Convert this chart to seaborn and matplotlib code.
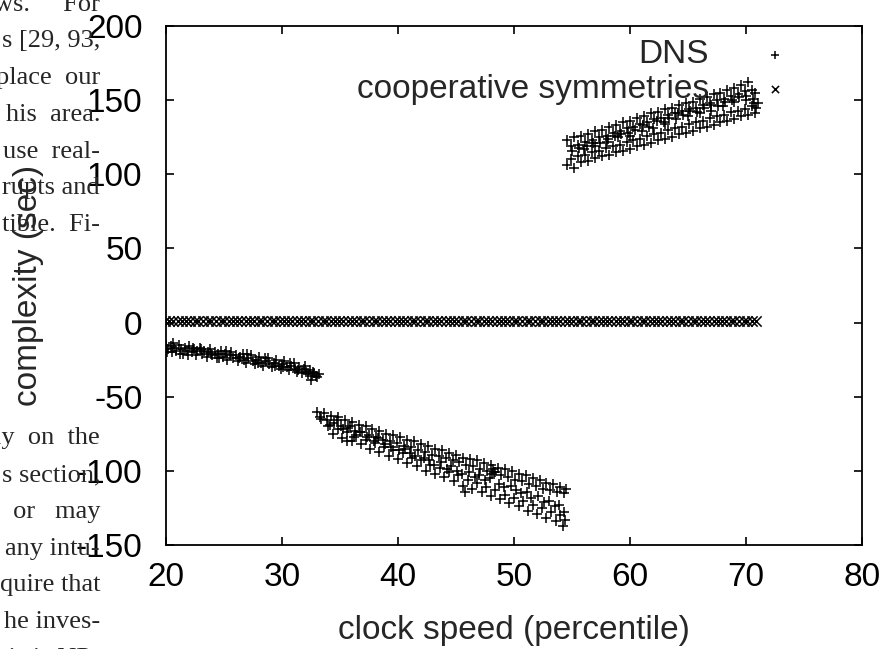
import numpy as np
import pandas as pd
import matplotlib
matplotlib.use("Agg")
import matplotlib.pyplot as plt
import seaborn as sns

# DNS: three clusters
seg1_x = [20.0, 20.2, 20.4, 20.5, 20.7, 20.9, 21.1, 21.3, 21.5, 21.6, 21.8, 22.0, 22.2, 22.4,
          22.6, 22.7, 22.9, 23.1, 23.3, 23.5, 23.6, 23.8, 24.0, 24.2, 24.4, 24.5, 24.7, 24.9,
          25.1, 25.3, 25.5, 25.6, 25.8, 26.0, 26.2, 26.4, 26.6, 26.7, 26.9, 27.1, 27.3, 27.5,
          27.7, 27.8, 28.0, 28.2, 28.4, 28.6, 28.8, 28.9, 29.1, 29.3, 29.5, 29.7, 29.9, 30.0,
          30.2, 30.4, 30.6, 30.8, 31.0, 31.1, 31.3, 31.5, 31.7, 31.9, 32.1, 32.2, 32.4, 32.5,
          32.6, 32.8, 33.0, 33.2,
          20.1, 20.6, 21.2, 21.9, 22.3, 23.0, 23.9, 24.6, 25.2, 26.3, 27.0, 27.9, 28.5, 29.4,
          30.1, 30.7, 31.4, 32.0, 32.7, 32.9]
seg1_y = [-15, -18, -16, -20, -17, -19, -15, -18, -21, -17, -19, -16, -20, -18,
          -22, -19, -17, -21, -19, -23, -20, -18, -22, -20, -24, -21, -19, -23,
          -21, -25, -22, -20, -24, -22, -26, -23, -21, -25, -27, -24, -22, -26,
          -28, -25, -23, -27, -29, -26, -24, -28, -30, -27, -25, -29, -31, -28,
          -26, -30, -32, -29, -27, -31, -33, -30, -34, -31, -33, -35, -32, -39,
          -36, -34, -37, -35,
          -20, -14, -21, -22, -17, -18, -21, -24, -19, -24, -21, -27, -24, -29,
          -30, -27, -32, -29, -33, -36]

seg2_x = [33.0, 33.3, 33.6, 33.9, 34.2, 34.5, 34.8, 35.1, 35.4, 35.7, 36.0, 36.3, 36.6, 36.9,
          37.2, 37.5, 37.8, 38.1, 38.4, 38.7, 39.0, 39.3, 39.6, 39.9, 40.2, 40.5, 40.8, 41.1,
          41.4, 41.7, 42.0, 42.3, 42.6, 42.9, 43.2, 43.5, 43.8, 44.1, 44.4, 44.7, 45.0, 45.3,
          45.6, 45.9, 46.2, 46.5, 46.8, 47.1, 47.4, 47.7, 48.0, 48.3, 48.6, 48.9, 49.2, 49.5,
          49.8, 50.1, 50.4, 50.7, 51.0, 51.3, 51.6, 51.9, 52.2, 52.5, 52.8, 53.1, 53.4, 53.7,
          54.0, 54.3, 54.5,
          34.0, 34.4, 34.8, 35.2, 35.6, 36.0, 36.4, 36.8, 37.2, 37.6, 38.0, 38.4, 38.8, 39.2,
          39.6, 40.0, 40.4, 40.8, 41.2, 41.6, 42.0, 42.4, 42.8, 43.2, 43.6, 44.0, 44.4, 44.8,
          45.2, 45.6, 46.0, 46.4, 46.8, 47.2, 47.6, 48.0, 48.4, 48.8, 49.2, 49.6, 50.0, 50.4,
          50.8, 51.2, 51.6, 52.0, 52.4, 52.8, 53.2, 53.6, 54.0, 54.2,
          33.4, 34.1, 34.7, 35.3, 35.9, 36.2, 36.7, 37.3, 37.9, 38.3, 38.9, 39.4, 40.1, 40.6,
          41.0, 41.5, 42.2, 42.7, 43.1, 43.7, 44.2, 44.6, 45.1, 45.5, 46.1, 46.6, 47.0, 47.5,
          47.9, 48.2, 48.4, 48.1, 48.7, 49.1, 49.7, 50.2, 50.6, 51.1, 51.5, 52.1, 52.6, 53.0,
          53.5, 53.9, 54.3, 54.4, 35.6, 45.8]
seg2_y = [-60, -64, -61, -66, -63, -68, -64, -70, -66, -71, -67, -73, -69, -74,
          -70, -76, -72, -77, -73, -79, -75, -80, -76, -81, -77, -83, -79, -84,
          -80, -86, -82, -87, -83, -89, -85, -90, -86, -91, -88, -93, -89, -94,
          -91, -96, -92, -97, -93, -99, -95, -100, -96, -101, -98, -103, -99, -104,
          -100, -106, -102, -107, -103, -109, -105, -110, -106, -112, -108, -113, -109, -114,
          -111, -115, -112,
          -70, -75, -72, -78, -74, -80, -76, -82, -79, -85, -81, -87, -84, -90,
          -86, -92, -88, -95, -91, -97, -93, -100, -96, -102, -98, -104, -101, -107,
          -103, -110, -106, -112, -108, -114, -111, -117, -113, -119, -116, -122, -118, -124,
          -120, -127, -123, -129, -125, -132, -128, -134, -130, -137,
          -65, -69, -66, -72, -70, -77, -74, -77, -80, -78, -82, -84, -86, -85,
          -88, -90, -91, -93, -96, -94, -99, -97, -100, -102, -101, -104, -103, -106,
          -105, -99, -101, -102, -109, -111, -110, -113, -115, -114, -118, -117, -121, -120,
          -124, -123, -128, -133, -80, -114]

seg3_x = [54.6, 54.9, 55.2, 55.5, 55.8, 56.1, 56.4, 56.7, 57.0, 57.3, 57.6, 57.9, 58.2, 58.5,
          58.8, 59.1, 59.4, 59.7, 60.0, 60.3, 60.6, 60.9, 61.2, 61.5, 61.8, 62.1, 62.4, 62.7,
          63.0, 63.3, 63.6, 63.9, 64.2, 64.5, 64.8, 65.1, 65.4, 65.7, 66.0, 66.3, 66.6, 66.9,
          67.2, 67.5, 67.8, 68.1, 68.4, 68.7, 69.0, 69.3, 69.6, 69.9, 70.2, 70.5, 70.8,
          54.6, 54.9, 55.2, 55.5, 55.8, 56.1, 56.4, 56.7, 57.0, 57.3, 57.6, 57.9, 58.2, 58.5,
          58.8, 59.1, 59.4, 59.7, 60.0, 60.3, 60.6, 60.9, 61.2, 61.5, 61.8, 62.1, 62.4, 62.7,
          63.0, 63.3, 63.6, 63.9, 64.2, 64.5, 64.8, 65.1, 65.4, 65.7, 66.0, 66.3, 66.6, 66.9,
          67.2, 67.5, 67.8, 68.1, 68.4, 68.7, 69.0, 69.3, 69.6, 69.9, 70.2, 70.5, 70.8, 71.0,
          56.0, 57.0, 58.0, 59.0, 60.0, 61.0, 62.0, 63.0, 64.0, 65.0, 66.0, 67.0, 68.0, 69.0,
          70.0,
          55.0, 55.6, 56.3, 56.8, 57.4, 58.1, 58.7, 59.2, 59.8, 60.4, 61.1, 61.6, 62.3, 62.9,
          63.4, 64.1, 64.6, 65.2, 65.8, 66.4, 67.0, 67.6, 68.2, 68.8, 69.4, 70.0, 70.6, 70.9,
          70.7]
seg3_y = [123, 119, 125, 120, 126, 122, 127, 123, 129, 125, 130, 126, 132, 128,
          133, 129, 135, 131, 136, 132, 138, 134, 139, 135, 141, 137, 142, 138,
          144, 140, 145, 141, 147, 143, 148, 144, 149, 145, 151, 147, 152, 148,
          154, 150, 155, 151, 157, 153, 158, 154, 160, 156, 162, 157, 155,
          106, 110, 104, 112, 108, 113, 109, 115, 111, 116, 112, 118, 113, 119,
          115, 120, 116, 122, 117, 123, 119, 124, 120, 126, 121, 127, 123, 128,
          124, 130, 125, 131, 127, 132, 128, 134, 129, 135, 131, 136, 132, 138,
          133, 139, 135, 140, 136, 142, 137, 143, 139, 144, 140, 146, 141, 148,
          117, 119, 122, 125, 126, 129, 131, 134, 137, 139, 141, 143, 146, 149,
          150,
          116, 118, 119, 121, 121, 124, 126, 127, 128, 130, 133, 132, 136, 135,
          138, 141, 140, 143, 142, 145, 147, 146, 149, 150, 152, 153, 151, 145,
          148]

# cooperative symmetries: dense row of markers just above zero
coop_x = [19.9, 20.3, 20.6, 21.0, 21.4, 21.7, 22.1, 22.5, 22.8, 23.2, 23.6, 23.9, 24.3, 24.7,
          25.0, 25.4, 25.8, 26.1, 26.5, 26.9, 27.2, 27.6, 28.0, 28.3, 28.7, 29.1, 29.4, 29.8,
          30.2, 30.5, 30.9, 31.3, 31.6, 32.0, 32.4, 32.7, 33.1, 33.5, 33.8, 34.2, 34.6, 34.9,
          35.3, 35.7, 36.0, 36.4, 36.8, 37.1, 37.5, 37.9, 38.2, 38.6, 39.0, 39.3, 39.7, 40.1,
          40.4, 40.8, 41.2, 41.5, 41.9, 42.3, 42.6, 43.0, 43.4, 43.7, 44.1, 44.5, 44.8, 45.2,
          45.6, 45.9, 46.3, 46.7, 47.0, 47.4, 47.8, 48.1, 48.5, 48.9, 49.2, 49.6, 50.0, 50.3,
          50.7, 51.1, 51.4, 51.8, 52.2, 52.5, 52.9, 53.3, 53.6, 54.0, 54.4, 54.7, 55.1, 55.5,
          55.8, 56.2, 56.6, 56.9, 57.3, 57.7, 58.0, 58.4, 58.8, 59.1, 59.5, 59.9, 60.2, 60.6,
          61.0, 61.3, 61.7, 62.1, 62.4, 62.8, 63.2, 63.5, 63.9, 64.3, 64.6, 65.0, 65.4, 65.7,
          66.1, 66.5, 66.8, 67.2, 67.6, 67.9, 68.3, 68.7, 69.0, 69.4, 69.8, 70.1, 70.5, 70.9]
coop_level = 1.0

x_ticks = [20, 30, 40, 50, 60, 70, 80]
y_ticks = [-150, -100, -50, 0, 50, 100, 150, 200]

# bits of the paper text that show around the figure
side_text = [
    (11, "ws.     For"), (47, "s [29, 93,"), (84, "place  our"), (121, "his  area."),
    (158, "use  real-"), (194, "rupts and"), (231, "tible.  Fi-"),
    (444, "ly  on  the"), (481, "s section,"), (518, "y   or   may"),
    (555, "any intu-"), (591, "quire that"), (628, "he inves-"), (665, "this is NP-"),
]

dns = pd.DataFrame({"x": seg1_x + seg2_x + seg3_x, "y": seg1_y + seg2_y + seg3_y})
coop = pd.DataFrame({"x": coop_x, "y": [coop_level] * len(coop_x)})

sns.set_style("ticks")
plt.rcParams["font.family"] = ["Liberation Sans", "DejaVu Sans"]
plt.rcParams["axes.unicode_minus"] = False

W, H = 888, 649
fig = plt.figure(figsize=(W / 100, H / 100), dpi=100)
ax = fig.add_axes([166 / W, 1 - 545 / H, 696 / W, 519 / H])

sns.scatterplot(data=dns, x="x", y="y", marker="+", color="black", s=62,
                linewidth=1.1, label="DNS", ax=ax, zorder=3)
sns.scatterplot(data=coop, x="x", y="y", marker="x", color="black", s=55,
                linewidth=1.1, label="cooperative symmetries", ax=ax, zorder=3)

ax.set_xlim(20, 80)
ax.set_ylim(-150, 200)
ax.set_xticks(x_ticks)
ax.set_yticks(y_ticks)
ax.tick_params(direction="in", length=6, width=1.2, top=True, right=True,
               labelsize=24, colors="black")
ax.tick_params(axis="x", pad=12)
ax.tick_params(axis="y", pad=17)
for sp in ax.spines.values():
    sp.set_visible(True)
    sp.set_linewidth(1.3)
    sp.set_color("black")

ax.set_xlabel("clock speed (percentile)", fontsize=24)
ax.set_ylabel("complexity (sec)", fontsize=24)
ax.xaxis.set_label_coords(0.5, -0.135)
ax.yaxis.set_label_coords(-0.176, 0.5)

leg = ax.legend(loc="upper right", bbox_to_anchor=(1 - 40 / 696, 1),
                markerfirst=False, frameon=False, fontsize=24,
                handletextpad=1.0, labelspacing=0.1, borderaxespad=0.0,
                markerscale=0.7)

for yb, t in side_text:
    fig.text(100 / W, 1 - yb / H, t, ha="right", va="baseline",
             family=["Liberation Serif", "DejaVu Serif"], fontsize=19)

fig.savefig("out.png", dpi=100)
